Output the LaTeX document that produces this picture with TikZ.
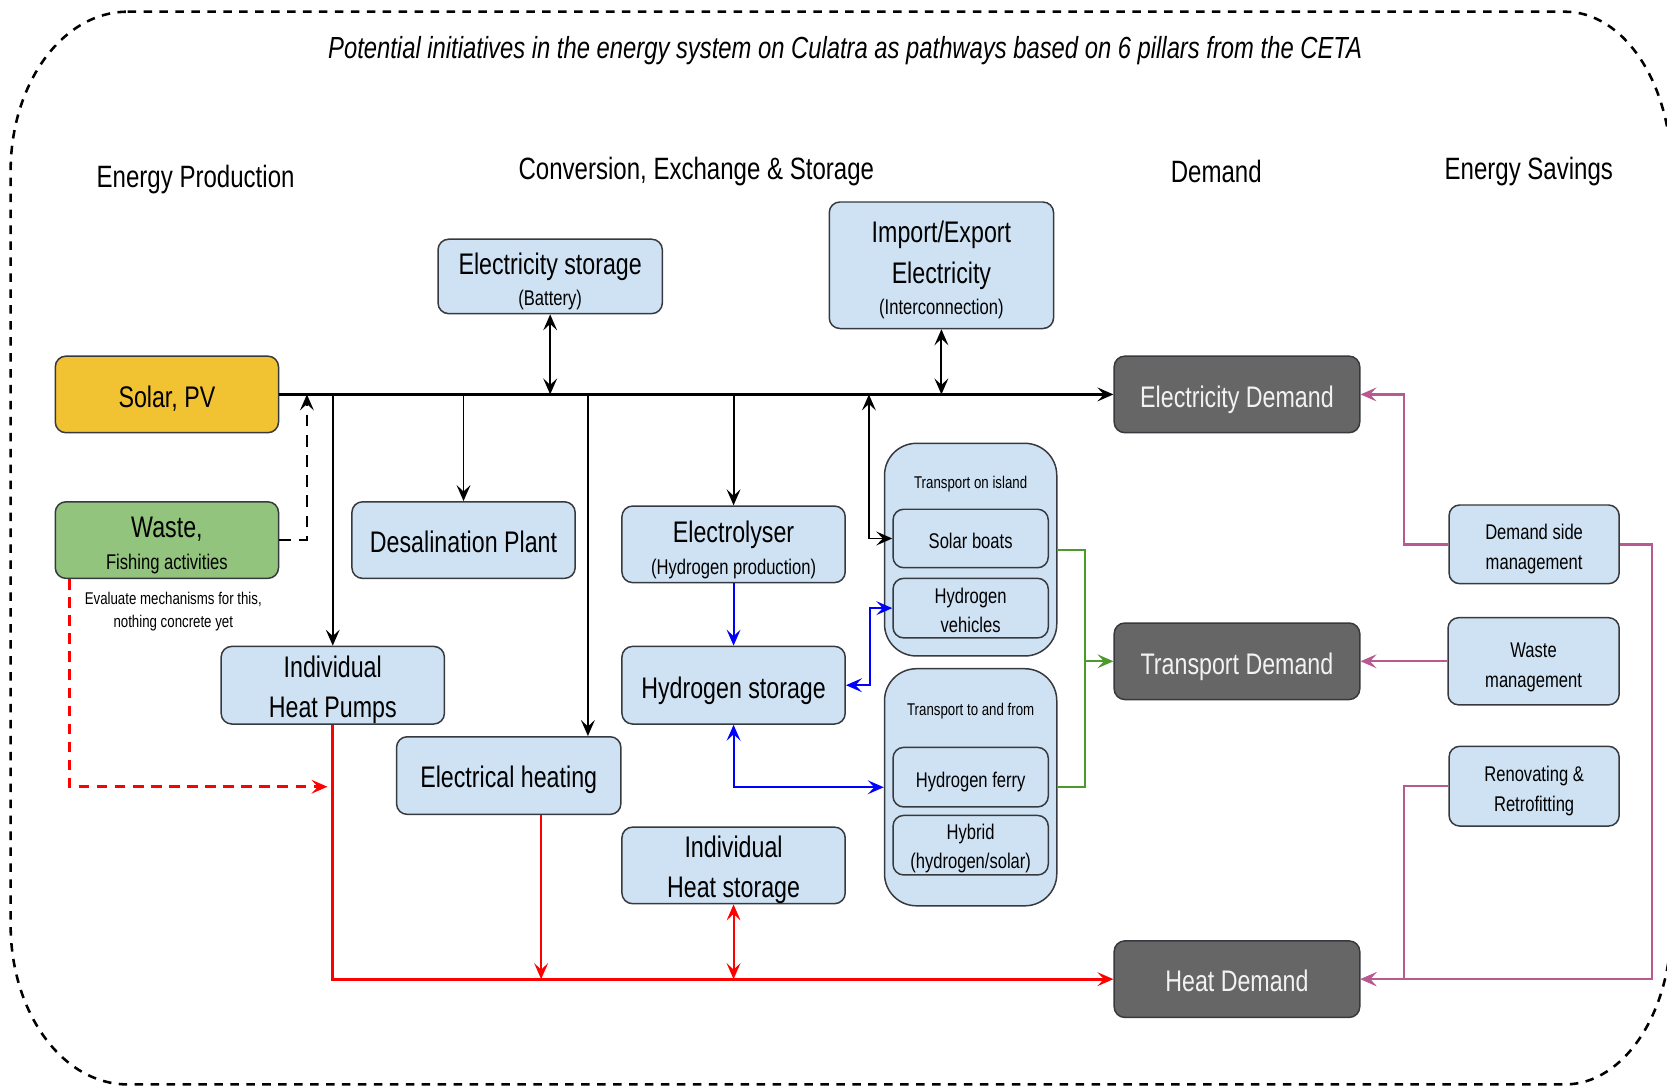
\documentclass[tikz,border=0pt]{standalone}
\usepackage{fontspec}
\setmainfont[FakeStretch=0.78]{Liberation Sans}
\usetikzlibrary{arrows.meta,calc}
\definecolor{solarc}{HTML}{F1C232}
\definecolor{wastec}{HTML}{93C47D}
\definecolor{boxc}{HTML}{CFE2F3}
\definecolor{demc}{HTML}{666666}
\definecolor{strokec}{HTML}{36393D}
\definecolor{purc}{HTML}{B85A8F}
\definecolor{greenc}{HTML}{4C9A2A}
\definecolor{demtext}{HTML}{F2F2F2}
\newcommand\myfbig{\fontsize{28}{32}\selectfont}
\newcommand\myfsub{\fontsize{20}{24}\selectfont}
\newcommand\myfmid{\fontsize{20}{27}\selectfont}
\newcommand\myfsm{\fontsize{16}{22}\selectfont}
\newcommand\myup[1]{\rule{0pt}{#1pt}}
\begin{document}
\begin{tikzpicture}[x=1pt,y=-1pt,
  box/.style={draw=strokec, line width=1.4pt, rounded corners=10pt, fill=boxc, inner sep=0pt, align=center, text=black},
  grp/.style={box, rounded corners=30pt},
  dem/.style={box, fill=demc, text=demtext},
  hdr/.style={font=\fontsize{29}{32}\selectfont, inner sep=0pt},
  conn/.style={line width=1.8pt},
  bus/.style={line width=3pt},
  arr/.style={-{Stealth[length=15pt,width=13pt,inset=6pt]}},
  darr/.style={{Stealth[length=15pt,width=13pt,inset=6pt]}-{Stealth[length=15pt,width=13pt,inset=6pt]}},
  border/.style={line width=2.4pt, dash pattern=on 8pt off 7pt}
]
\useasboundingbox (0,0) rectangle (1568,1023);
\clip (0,0) rectangle (1568,1023);

% outer dashed frame
\draw[border] (120,11) -- (1472,11)
  arc[start angle=-90, end angle=0, x radius=100, y radius=150] -- (1572,870)
  arc[start angle=0, end angle=90, x radius=100, y radius=150] -- (120,1020)
  arc[start angle=90, end angle=180, x radius=110, y radius=150] -- (10,161)
  arc[start angle=180, end angle=270, x radius=110, y radius=150] -- cycle;

% title and headers
\node[font=\fontsize{28.7}{32}\selectfont\itshape, inner sep=0pt] (title) at (795,48) {Potential initiatives in the energy system on Culatra as pathways based on 6 pillars from the CETA};
\node[hdr] (hprod) at (184,169) {Energy Production};
\node[hdr] (hconv) at (655,161) {Conversion, Exchange \& Storage};
\node[hdr] (hdem) at (1144,161) {Demand};
\node[hdr] (hsav) at (1438,161) {Energy Savings};

% production
\node[box, fill=solarc, minimum width=210pt, minimum height=72pt, font=\myfbig] (solar) at (157,371) {\myup{28}Solar, PV};
\node[box, fill=wastec, minimum width=210pt, minimum height=72pt, font=\fontsize{28}{30}\selectfont] (waste) at (157,508) {\myup{30}Waste,\\{\myfsub Fishing activities}};
\node[font=\myfsm, align=center, inner sep=0pt] (note) at (163,575) {Evaluate mechanisms for this,\\nothing concrete yet};

% conversion
\node[box, minimum width=211pt, minimum height=70pt, font=\fontsize{28}{29}\selectfont] (estore) at (517.5,260) {\myup{29}Electricity storage\\{\myfsub (Battery)}};
\node[box, minimum width=211pt, minimum height=119pt, font=\fontsize{28}{29}\selectfont] (impexp) at (885.5,249.5) {\myup{29}Import/Export\\[9pt]Electricity\\{\myfsub (Interconnection)}};
\node[box, minimum width=210pt, minimum height=72pt, font=\myfbig] (desal) at (436,508) {\myup{24}Desalination Plant};
\node[box, minimum width=210pt, minimum height=72pt, font=\fontsize{28}{30}\selectfont] (elys) at (690,512) {\myup{30}Electrolyser\\{\myfsub (Hydrogen production)}};
\node[box, minimum width=210pt, minimum height=73pt, font=\fontsize{28}{38}\selectfont] (hp) at (313,644.5) {\myup{29}Individual\\Heat Pumps};
\node[box, minimum width=210pt, minimum height=73pt, font=\myfbig] (h2s) at (690,644.5) {\myup{30}Hydrogen storage};
\node[box, minimum width=211pt, minimum height=73pt, font=\myfbig] (eheat) at (478.5,729.5) {\myup{28}Electrical heating};
\node[box, minimum width=210pt, minimum height=72pt, font=\fontsize{28}{38}\selectfont] (hstore) at (690,814) {\myup{28}Individual\\Heat storage};

% transport groups
\node[grp, minimum width=162pt, minimum height=200pt] (grp1) at (913,517) {};
\node[font=\myfsm, inner sep=0pt] (grp1t) at (913,455) {Transport on island};
\node[box, minimum width=146pt, minimum height=55pt, font=\myfmid] (sboat) at (913,506.5) {\myup{19}Solar boats};
\node[box, minimum width=146pt, minimum height=56pt, font=\myfmid] (h2v) at (913,572) {\myup{19}Hydrogen\\vehicles};
\node[grp, minimum width=162pt, minimum height=223pt] (grp2) at (913,740.5) {};
\node[font=\myfsm, inner sep=0pt] (grp2t) at (913,669) {Transport to and from};
\node[box, minimum width=146pt, minimum height=56pt, font=\myfmid] (ferry) at (913,731) {\myup{23}Hydrogen ferry};
\node[box, minimum width=146pt, minimum height=56pt, font=\myfmid] (hybrid) at (913,795) {\myup{21}Hybrid\\(hydrogen/solar)};

% demand
\node[dem, minimum width=231pt, minimum height=72pt, font=\myfbig] (edem) at (1163.5,371) {\myup{30}Electricity Demand};
\node[dem, minimum width=231pt, minimum height=72pt, font=\myfbig] (tdem) at (1163.5,622) {\myup{30}Transport Demand};
\node[dem, minimum width=231pt, minimum height=72pt, font=\myfbig] (hdemand) at (1163.5,921) {\myup{24}Heat Demand};

% savings
\node[box, minimum width=160pt, minimum height=74pt, font=\fontsize{20}{28}\selectfont] (dsm) at (1443,512) {\myup{23}Demand side\\management};
\node[box, minimum width=161pt, minimum height=82pt, font=\fontsize{20}{28}\selectfont] (wm) at (1442.5,622) {\myup{25}Waste\\management};
\node[box, minimum width=160pt, minimum height=75pt, font=\fontsize{20}{28}\selectfont] (reno) at (1443,739.5) {\myup{23}Renovating \&\\Retrofitting};

% electricity bus
\draw[bus, arr] (solar.east) -- (edem.west);
\draw[conn, darr] (estore.south) -- (estore.south |- solar.east);
\draw[conn, darr] (impexp.south) -- (impexp.south |- solar.east);
\draw[conn, arr, dash pattern=on 11pt off 8pt] (waste.east) -| ([xshift=26pt]solar.east);
\draw[conn, arr] (hp.north |- solar.east) -- (hp.north);
\draw[conn, arr] (desal.north |- solar.east) -- (desal.north);
\draw[conn, arr] ([xshift=74.5pt]eheat.north |- solar.east) -- ([xshift=74.5pt]eheat.north);
\draw[conn, arr] (elys.north |- solar.east) -- (elys.north);
\draw[conn, darr] ([xshift=-22pt]sboat.west |- solar.east) |- (sboat.west);

% hydrogen
\draw[conn, blue, arr] (elys.south) -- (h2s.north);
\draw[conn, blue, darr] (h2s.east) -- ++(23,0) |- (h2v.west);
\draw[conn, blue, darr] (h2s.south) |- (grp2.west);

% transport to demand
\draw[conn, greenc, line width=2pt] (grp1.east) -| ([xshift=-27pt]tdem.west);
\draw[conn, greenc, line width=2pt] (grp2.east) -| ([xshift=-27pt]tdem.west);
\draw[conn, greenc, line width=2pt, arr] ([xshift=-27pt]tdem.west) -- (tdem.west);

% heat
\draw[conn, red, line width=2.6pt, arr] (hp.south) |- (hdemand.west);
\draw[conn, red, arr] ([xshift=30.5pt]eheat.south) -- ([xshift=30.5pt]eheat.south |- hdemand.west);
\draw[conn, red, darr] (hstore.south) -- (hstore.south |- hdemand.west);
\draw[conn, red, line width=2.4pt, arr, dash pattern=on 10pt off 7pt] ([xshift=14pt]waste.south west) |- ([xshift=-5pt]hp.south |- 0,740);

% savings
\draw[conn, purc, line width=2.2pt, arr] (dsm.west) -- ++(-42,0) |- (edem.east);
\draw[conn, purc, line width=2.2pt, arr] (dsm.east) -- ++(30,0) |- (hdemand.east);
\draw[conn, purc, line width=2.2pt, arr] (wm.west) -- (tdem.east);
\draw[conn, purc, line width=2.2pt, arr] (reno.west) -- ++(-42,0) |- (hdemand.east);
\end{tikzpicture}
\end{document}
